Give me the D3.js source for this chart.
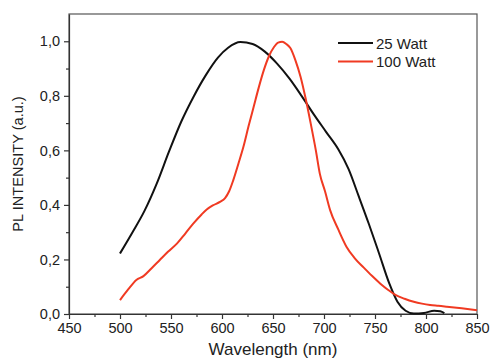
<!DOCTYPE html>
<html>
<head>
<meta charset="utf-8">
<script src="https://cdn.jsdelivr.net/npm/d3@7.9.0/dist/d3.min.js"></script>
<style>
  body { margin: 0; background: #fff; }
  svg { font-family: "Liberation Sans", Arial, sans-serif; }
</style>
</head>
<body>
<svg id="chart" width="490" height="360"></svg>
<script>
// spectra
const wl25 = [500, 512, 524, 536, 548, 560, 572, 584, 596, 606, 618, 630, 642, 654, 666, 678, 690, 702, 714, 724, 734, 744, 754, 764, 772, 780, 788, 798, 808, 814, 818];
const pl25 = [0.222, 0.298, 0.378, 0.478, 0.595, 0.705, 0.796, 0.875, 0.94, 0.976, 0.997, 0.99, 0.962, 0.918, 0.864, 0.8, 0.732, 0.668, 0.604, 0.532, 0.432, 0.33, 0.222, 0.112, 0.045, 0.012, 0.002, 0.004, 0.012, 0.01, 0.003];

const wl100 = [500, 508, 516, 523, 531, 539, 547, 556, 564, 572, 580, 585, 591, 598, 603, 607, 611, 616, 621, 626, 631, 636, 641, 646, 651, 655, 659, 663, 667, 672, 677, 682, 687, 692, 696, 701, 706, 714, 722, 730, 739, 747, 755, 763, 770, 779, 788, 796, 804, 812, 820, 835, 850];
const pl100 = [0.051, 0.09, 0.125, 0.139, 0.168, 0.198, 0.228, 0.259, 0.295, 0.332, 0.365, 0.383, 0.398, 0.411, 0.425, 0.45, 0.49, 0.55, 0.613, 0.688, 0.759, 0.83, 0.894, 0.945, 0.979, 0.995, 0.998, 0.99, 0.975, 0.93, 0.87, 0.79, 0.698, 0.6, 0.513, 0.45, 0.381, 0.31, 0.247, 0.205, 0.17, 0.14, 0.112, 0.088, 0.07, 0.056, 0.045, 0.038, 0.033, 0.03, 0.027, 0.021, 0.014];

const series = [
  { name: '25 Watt', wl: wl25, pl: pl25, color: '#111111' },
  { name: '100 Watt', wl: wl100, pl: pl100, color: '#f03a22' }
];

const xTicks = [450, 500, 550, 600, 650, 700, 750, 800, 850];
const yTicks = [0, 0.2, 0.4, 0.6, 0.8, 1.0];

const svg = d3.select('#chart');
const margin = { left: 69, right: 13, top: 14, bottom: 46 };
const W = 490, H = 360;

const x = d3.scaleLinear().domain([450, 850]).range([margin.left, W - margin.right]);
const y = d3.scaleLinear().domain([0, 1.1]).range([H - margin.bottom, margin.top]);

// comma as decimal mark
const loc = d3.formatLocale({ decimal: ',', thousands: '.', grouping: [3], currency: ['', ''] });
const fmt = loc.format('.1f');

const axisColor = '#333';
const textColor = '#222';

// frame
svg.append('rect')
  .attr('x', x(450)).attr('y', y(1.1))
  .attr('width', x(850) - x(450)).attr('height', y(0) - y(1.1))
  .attr('fill', 'none').attr('stroke', '#555').attr('stroke-width', 1.2);

// x axis with minor ticks
const xMinor = d3.range(475, 850, 50);
const gx = svg.append('g').attr('transform', `translate(0,${y(0)})`);
gx.call(d3.axisBottom(x).tickValues(xTicks).tickSize(5).tickSizeOuter(0).tickPadding(4).tickFormat(d3.format('d')));
svg.append('g').attr('transform', `translate(0,${y(0)})`)
  .call(d3.axisBottom(x).tickValues(xMinor).tickSize(3).tickFormat(''))
  .select('.domain').remove();

// y axis with minor ticks
const yMinor = [0.1, 0.3, 0.5, 0.7, 0.9];
const gy = svg.append('g').attr('transform', `translate(${x(450)},0)`);
gy.call(d3.axisLeft(y).tickValues(yTicks).tickSize(5).tickSizeOuter(0).tickPadding(4).tickFormat(fmt));
svg.append('g').attr('transform', `translate(${x(450)},0)`)
  .call(d3.axisLeft(y).tickValues(yMinor).tickSize(3).tickFormat(''))
  .select('.domain').remove();

svg.selectAll('.domain').attr('stroke', axisColor).attr('stroke-width', 1.2);
svg.selectAll('.tick line').attr('stroke', axisColor).attr('stroke-width', 1.2);
svg.selectAll('.tick text').attr('fill', textColor).style('font-size', '14.5px')
  .style('font-family', '"Liberation Sans", Arial, sans-serif');

// axis titles
svg.append('text')
  .attr('x', (x(450) + x(850)) / 2).attr('y', 355)
  .attr('text-anchor', 'middle').attr('fill', textColor)
  .style('font-size', '17px').text('Wavelength (nm)');
svg.append('text')
  .attr('transform', `translate(23,${(y(0) + y(1.1)) / 2}) rotate(-90)`)
  .attr('text-anchor', 'middle').attr('fill', textColor)
  .style('font-size', '14.6px').text('PL INTENSITY (a.u.)');

// curves
const line = d3.line()
  .x(d => x(d[0])).y(d => y(d[1]))
  .curve(d3.curveMonotoneX);

series.forEach(s => {
  svg.append('path')
    .datum(s.wl.map((w, i) => [w, s.pl[i]]))
    .attr('d', line)
    .attr('fill', 'none')
    .attr('stroke', s.color)
    .attr('stroke-width', 2);
});

// legend
const leg = svg.append('g').attr('transform', 'translate(338,43)');
series.forEach((s, i) => {
  const g = leg.append('g').attr('transform', `translate(0,${i * 18.5})`);
  g.append('line').attr('x1', 0).attr('x2', 35).attr('y1', 0).attr('y2', 0)
    .attr('stroke', s.color).attr('stroke-width', 2);
  g.append('text').attr('x', 38).attr('y', 5.5).attr('fill', textColor)
    .style('font-size', '15px').text(s.name);
});
</script>
</body>
</html>
